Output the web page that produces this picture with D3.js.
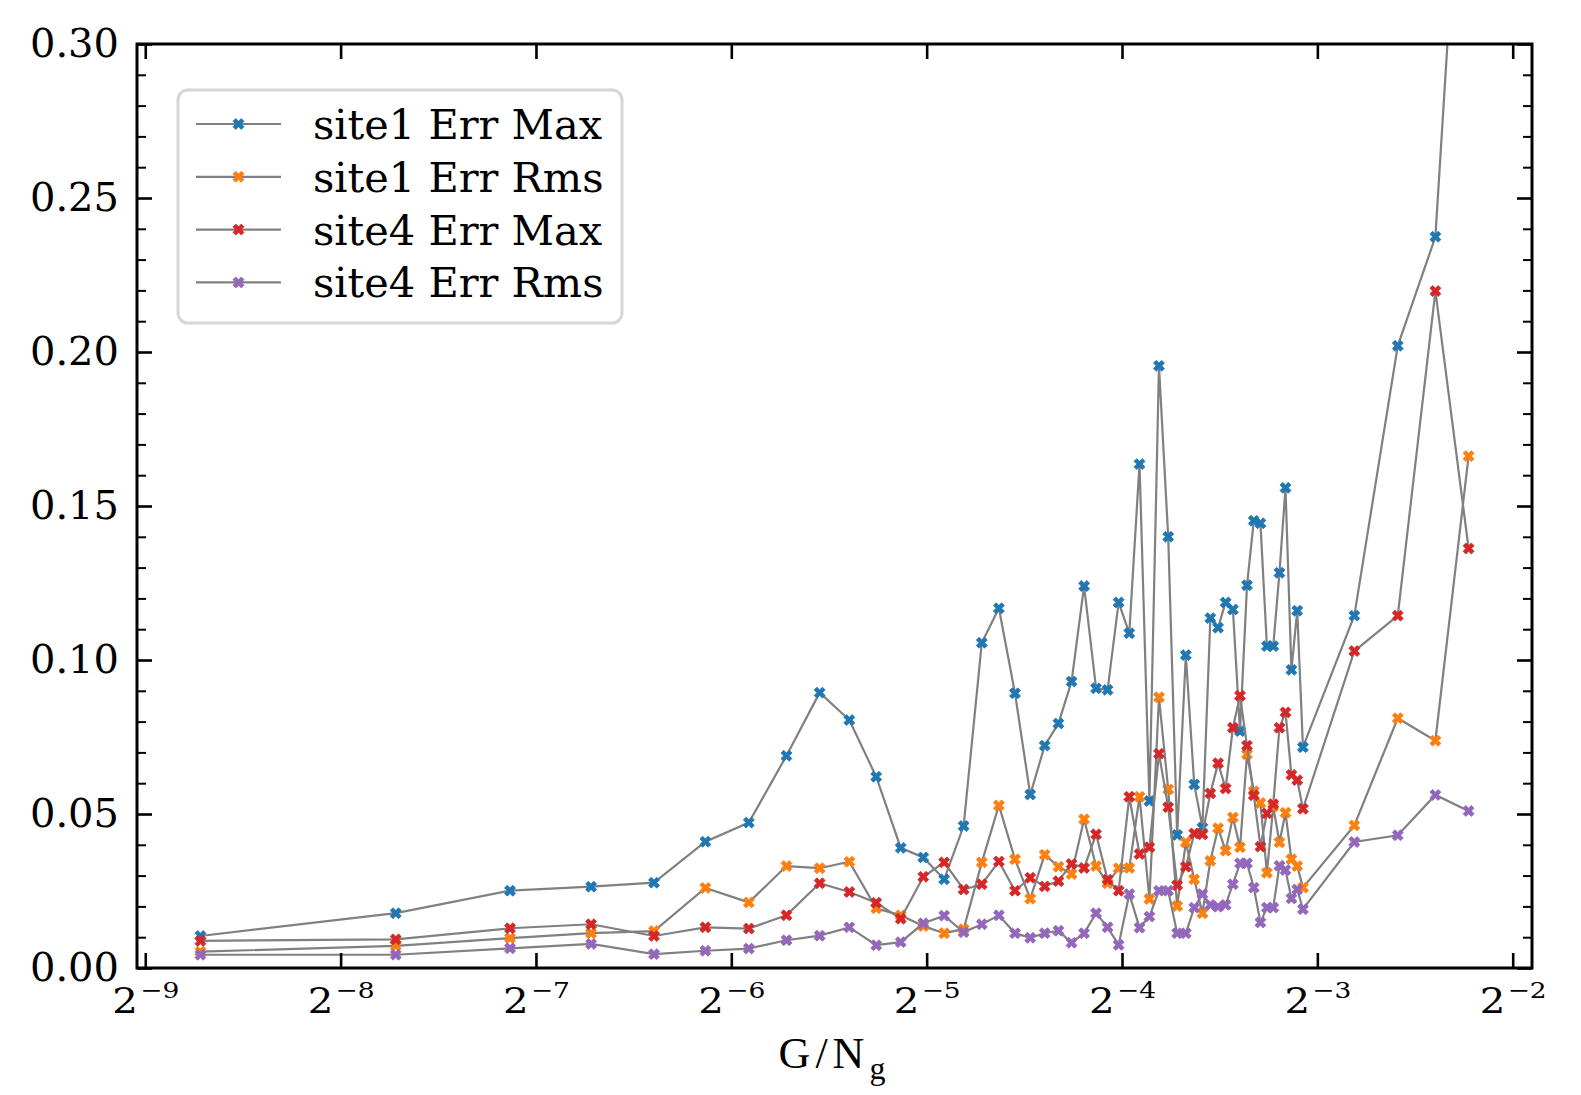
<!DOCTYPE html>
<html>
<head>
<meta charset="utf-8">
<script src="https://cdn.jsdelivr.net/npm/d3@7"></script>
<style>
  body { margin: 0; background: #fff; }
  svg text { fill: #000; }
</style>
</head>
<body>
<div id="chart"></div>
<script>
// x = G / N_g
const gValues = [1, 2, 3, 4, 5, 6, 7, 8, 9, 10,
    11, 12, 13, 14, 15, 16, 17, 18, 19, 20,
    21, 22, 23, 24, 25, 26, 27, 28, 29, 30,
    31, 32, 33, 34, 35, 36, 37, 38, 39, 40,
    41, 42, 43, 44, 45, 46, 47, 48, 49, 50,
    60, 70, 80, 90];
const Ng = 421;

const site1ErrMax = [0.0104, 0.0178, 0.0251, 0.0264, 0.0277, 0.0410, 0.0472, 0.0689, 0.0894, 0.0805,
    0.0621, 0.0390, 0.0359, 0.0288, 0.0461, 0.1056, 0.1168, 0.0892, 0.0563, 0.0722,
    0.0794, 0.0930, 0.1240, 0.0908, 0.0903, 0.1187, 0.1087, 0.1636, 0.0542, 0.1955,
    0.1400, 0.0432, 0.1016, 0.0596, 0.0456, 0.1136, 0.1105, 0.1187, 0.1164, 0.0769,
    0.1243, 0.1452, 0.1444, 0.1045, 0.1045, 0.1283, 0.1559, 0.0968, 0.1160, 0.0717,
    0.1144, 0.2020, 0.2374, 0.4100];
const site1ErrRms = [0.0053, 0.0072, 0.0097, 0.0113, 0.0120, 0.0260, 0.0213, 0.0331, 0.0324, 0.0345,
    0.0194, 0.0171, 0.0136, 0.0113, 0.0126, 0.0343, 0.0528, 0.0353, 0.0225, 0.0368,
    0.0329, 0.0305, 0.0483, 0.0331, 0.0275, 0.0324, 0.0325, 0.0556, 0.0224, 0.0879,
    0.0580, 0.0201, 0.0408, 0.0288, 0.0178, 0.0348, 0.0454, 0.0381, 0.0489, 0.0392,
    0.0694, 0.0574, 0.0536, 0.0309, 0.0524, 0.0408, 0.0504, 0.0353, 0.0331, 0.0261,
    0.0463, 0.0811, 0.0738, 0.1662];
const site4ErrMax = [0.0088, 0.0093, 0.0129, 0.0142, 0.0104, 0.0132, 0.0128, 0.0171, 0.0275, 0.0247,
    0.0212, 0.0160, 0.0296, 0.0343, 0.0255, 0.0272, 0.0346, 0.0251, 0.0293, 0.0265,
    0.0282, 0.0338, 0.0325, 0.0434, 0.0287, 0.0251, 0.0556, 0.0370, 0.0392, 0.0696,
    0.0522, 0.0269, 0.0329, 0.0437, 0.0434, 0.0567, 0.0665, 0.0583, 0.0780, 0.0884,
    0.0722, 0.0561, 0.0394, 0.0502, 0.0532, 0.0780, 0.0830, 0.0627, 0.0610, 0.0517,
    0.1029, 0.1144, 0.2198, 0.1362];
const site4ErrRms = [0.0043, 0.0043, 0.0064, 0.0078, 0.0045, 0.0056, 0.0063, 0.0090, 0.0105, 0.0132,
    0.0074, 0.0084, 0.0145, 0.0170, 0.0116, 0.0142, 0.0171, 0.0113, 0.0098, 0.0113,
    0.0121, 0.0082, 0.0113, 0.0178, 0.0132, 0.0075, 0.0240, 0.0131, 0.0167, 0.0251,
    0.0251, 0.0113, 0.0113, 0.0196, 0.0240, 0.0205, 0.0199, 0.0205, 0.0272, 0.0340,
    0.0340, 0.0261, 0.0148, 0.0196, 0.0196, 0.0332, 0.0318, 0.0226, 0.0255, 0.0191,
    0.0409, 0.0431, 0.0562, 0.0510];

const seriesNames = ["site1 Err Max", "site1 Err Rms", "site4 Err Max", "site4 Err Rms"];
const seriesColors = ["#1f77b4", "#ff7f0e", "#d62728", "#9467bd"];
const yTicks = [0, 0.05, 0.10, 0.15, 0.20, 0.25, 0.30];
const xTickExps = [-9, -8, -7, -6, -5, -4, -3, -2];

const series = [site1ErrMax, site1ErrRms, site4ErrMax, site4ErrRms];

const margin = {top: 44, right: 49, bottom: 127, left: 137};
const width = 1581 - margin.left - margin.right;
const height = 1095 - margin.top - margin.bottom;

const root = d3.select("#chart")
    .append("svg")
    .attr("width", 1581)
    .attr("height", 1095)
    .style("background", "#fff");

const svg = root.append("g")
    .attr("transform", `translate(${margin.left},${margin.top})`);

const xs = gValues.map(g => g / Ng);
// log axis with 5% margins, like matplotlib autoscale
const lo = Math.log2(d3.min(xs)), hi = Math.log2(d3.max(xs));
const pad = (hi - lo) * 0.05;
const x = d3.scaleLog().base(2)
    .domain([2 ** (lo - pad), 2 ** (hi + pad)])
    .range([0, width]);

const y = d3.scaleLinear()
    .domain([0, 0.30])
    .range([height, 0]);

svg.append("clipPath").attr("id", "clip")
  .append("rect").attr("width", width).attr("height", height);

const line = d3.line()
    .x((d, i) => x(xs[i]))
    .y(d => y(d));

const marker = d3.symbol().type(d3.symbolCross).size(75);

const plot = svg.append("g").attr("clip-path", "url(#clip)");
series.forEach((vals, k) => {
    plot.append("path")
        .attr("d", line(vals))
        .attr("fill", "none")
        .attr("stroke", "#808080")
        .attr("stroke-width", 2.2);
    plot.append("g").selectAll("path")
        .data(vals)
        .enter()
        .append("path")
        .attr("d", marker)
        .attr("transform", (d, i) => `translate(${x(xs[i])},${y(d)}) rotate(45)`)
        .attr("fill", seriesColors[k])
        .attr("stroke", seriesColors[k])
        .attr("stroke-width", 0.8);
});

// axes, ticks pointing inward on all sides
const yMinor = d3.range(0, 0.301, 0.01).filter(v => Math.round(v * 100) % 5 !== 0);
const xMajor = xTickExps.map(e => 2 ** e);

function clean(g, w) {
    g.select(".domain").remove();
    g.attr("font-family", null).attr("font-size", null);
    g.selectAll("line").attr("stroke", "#000").attr("stroke-width", w);
}

svg.append("g")
    .call(d3.axisLeft(y).tickValues(yTicks).tickSize(-15).tickSizeOuter(0).tickPadding(18).tickFormat(d3.format(".2f")))
    .call(g => clean(g, 2.6))
    .selectAll("text")
    .style("font-family", "'DejaVu Serif', serif")
    .style("font-size", "40px");
svg.append("g")
    .call(d3.axisLeft(y).tickValues(yMinor).tickSize(-9).tickFormat(""))
    .call(g => clean(g, 2));
svg.append("g").attr("transform", `translate(${width},0)`)
    .call(d3.axisRight(y).tickValues(yTicks).tickSize(-15).tickFormat(""))
    .call(g => clean(g, 2.6));
svg.append("g").attr("transform", `translate(${width},0)`)
    .call(d3.axisRight(y).tickValues(yMinor).tickSize(-9).tickFormat(""))
    .call(g => clean(g, 2));
svg.append("g")
    .call(d3.axisTop(x).tickValues(xMajor).tickSize(-15).tickFormat(""))
    .call(g => clean(g, 2.6));

const xAxis = svg.append("g").attr("transform", `translate(0,${height})`)
    .call(d3.axisBottom(x).tickValues(xMajor).tickSize(-15).tickFormat(""))
    .call(g => clean(g, 2.6));
xAxis.selectAll(".tick text").remove();
xAxis.selectAll(".tick").each(function(d, i) {
    const t = d3.select(this).append("text")
        .attr("y", 45)
        .attr("text-anchor", "middle")
        .attr("transform", "scale(1.15,1)")
        .style("font-family", "'DejaVu Serif', serif")
        .style("font-size", "35px");
    t.append("tspan").text("2");
    t.append("tspan")
        .attr("dy", -15)
        .attr("dx", 2)
        .style("font-size", "23px")
        .text("\u2212" + Math.abs(xTickExps[i]));
});

svg.append("rect")
    .attr("width", width)
    .attr("height", height)
    .attr("fill", "none")
    .attr("stroke", "#000")
    .attr("stroke-width", 3);

// x label
const xl = svg.append("text")
    .attr("x", width / 2)
    .attr("y", 1068 - margin.top)
    .attr("text-anchor", "middle")
    .style("font-family", "'Liberation Serif', serif")
    .style("font-size", "44px")
    .style("letter-spacing", "5px");
xl.append("tspan").text("G/N");
xl.append("tspan").attr("dy", 11).style("font-size", "32px").text("g");

// legend
const legend = svg.append("g").attr("transform", "translate(41,46)");
legend.append("rect")
    .attr("width", 444)
    .attr("height", 233)
    .attr("rx", 10)
    .attr("fill", "#fff")
    .attr("stroke", "#d6d6d6")
    .attr("stroke-width", 3);
seriesNames.forEach((name, k) => {
    const row = legend.append("g").attr("transform", `translate(0,${34 + k * 52.8})`);
    row.append("line")
        .attr("x1", 18).attr("x2", 103)
        .attr("stroke", "#808080").attr("stroke-width", 2.2);
    row.append("path")
        .attr("d", marker)
        .attr("transform", "translate(60.5,0) rotate(45)")
        .attr("fill", seriesColors[k])
        .attr("stroke", seriesColors[k])
        .attr("stroke-width", 0.8);
    row.append("text")
        .attr("x", 135)
        .attr("dy", "0.36em")
        .style("font-family", "'DejaVu Serif', serif")
        .style("font-size", "41.5px")
        .text(name);
});
</script>
</body>
</html>
